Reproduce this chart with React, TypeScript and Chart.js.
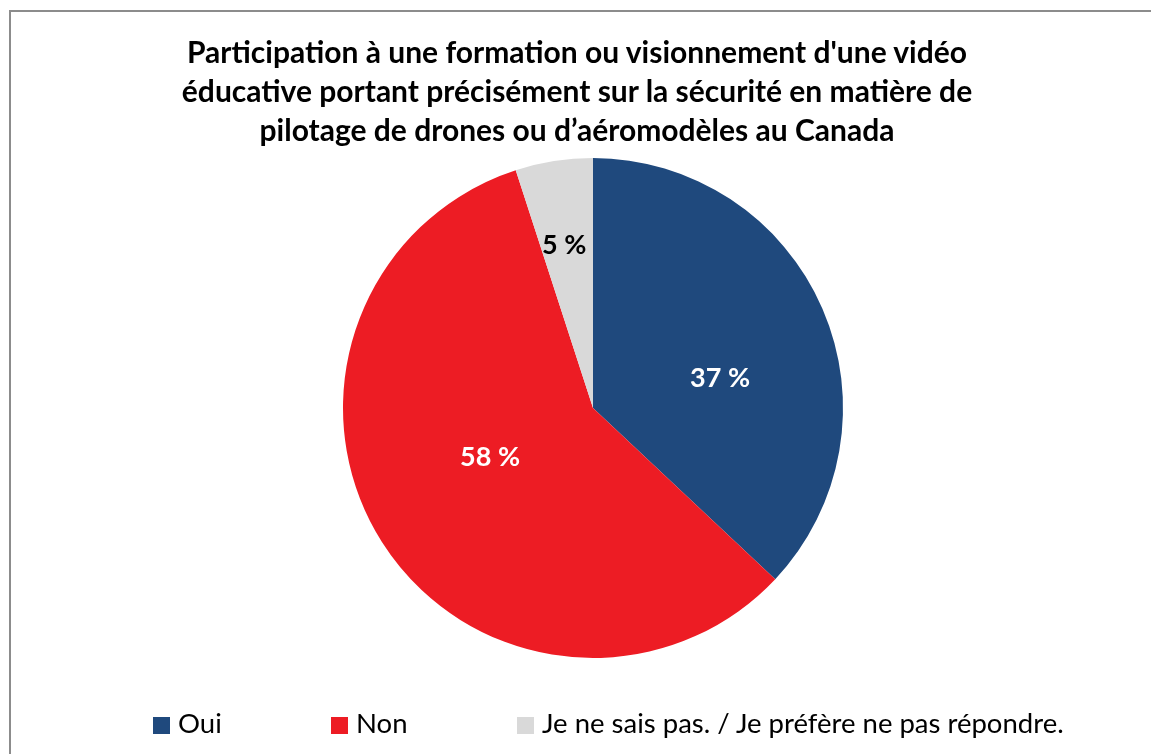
import React, { useEffect, useRef } from "react";
import { Chart, registerables } from "chart.js";

Chart.register(...registerables);

const titleLines: string[] = [
  "Participation à une formation ou visionnement d'une vidéo",
  "éducative portant précisément sur la sécurité en matière de",
  "pilotage de drones ou d’aéromodèles au Canada",
];
const categories: string[] = ["Oui", "Non", "Je ne sais pas. / Je préfère ne pas répondre."];
const values: number[] = [37, 58, 5];
const colors: string[] = ["#1F497D", "#ED1C24", "#D9D9D9"];
const labelColors: string[] = ["#FFFFFF", "#FFFFFF", "#000000"];

// label placement inside each slice: fraction along the slice angle, fraction of radius
const labelPlacement = [
  { a: 0.576, r: 0.522 },
  { a: 0.533, r: 0.456 },
  { a: 0.44, r: 0.66 },
];
const legendLefts = [153, 331, 517];

const FONT = "Lato, 'Open Sans', 'DejaVu Sans', sans-serif";

const sliceLabels = {
  id: "sliceLabels",
  afterDatasetsDraw(chart: any) {
    const ctx = chart.ctx;
    const meta = chart.getDatasetMeta(0);
    ctx.save();
    ctx.font = `bold 27px ${FONT}`;
    ctx.textAlign = "center";
    ctx.textBaseline = "middle";
    meta.data.forEach((el: any, i: number) => {
      const p = el.getProps(["x", "y", "startAngle", "endAngle", "outerRadius"], true);
      const pl = labelPlacement[i];
      const ang = p.startAngle + (p.endAngle - p.startAngle) * pl.a;
      const rr = p.outerRadius * pl.r;
      ctx.fillStyle = labelColors[i];
      ctx.fillText(`${values[i]} %`, p.x + Math.cos(ang) * rr, p.y + Math.sin(ang) * rr);
    });
    ctx.restore();
  },
};

export default function App() {
  const ref = useRef<HTMLCanvasElement | null>(null);
  useEffect(() => {
    if (!ref.current) return;
    const chart = new Chart(ref.current, {
      type: "pie",
      data: {
        labels: categories,
        datasets: [
          {
            data: values,
            backgroundColor: colors,
            borderWidth: 0,
          },
        ],
      },
      options: {
        animation: false,
        responsive: false,
        maintainAspectRatio: false,
        layout: { padding: { left: 343, right: 308, top: 158, bottom: 96 } },
        plugins: {
          legend: { display: false },
          title: { display: false },
          tooltip: { enabled: false },
        },
      },
      plugins: [sliceLabels],
    });
    (document as any).fonts?.ready?.then(() => chart.update());
    return () => chart.destroy();
  }, []);

  return (
    <div
      style={{
        position: "fixed",
        left: 0,
        top: 0,
        width: 1151,
        height: 754,
        overflow: "hidden",
        background: "#fff",
      }}
    >
      <div
        style={{
          position: "absolute",
          left: 9,
          top: 10,
          width: 1200,
          height: 800,
          border: "2px solid #8c8c8c",
          boxSizing: "border-box",
        }}
      />
      <canvas ref={ref} width={1151} height={754} style={{ position: "absolute", left: 0, top: 0 }} />
      <div
        style={{
          position: "absolute",
          left: 0,
          top: 32,
          width: 1154,
          textAlign: "center",
          fontFamily: FONT,
          fontWeight: 700,
          fontSize: 30,
          lineHeight: "39px",
          color: "#000",
        }}
      >
        {titleLines.map((t, i) => (
          <div key={i} style={{ whiteSpace: "nowrap" }}>{t}</div>
        ))}
      </div>
      {categories.map((c, i) => (
        <div
          key={c}
          style={{
            position: "absolute",
            left: legendLefts[i],
            top: 708,
            height: 30,
            display: "flex",
            alignItems: "flex-start",
            whiteSpace: "nowrap",
            fontFamily: FONT,
            fontSize: 27.5,
            lineHeight: "30px",
            color: "#000",
          }}
        >
          <span
            style={{
              display: "inline-block",
              width: 17,
              height: 17,
              background: colors[i],
              marginRight: 8,
              marginTop: 9,
              flex: "0 0 auto",
            }}
          />
          <span>{c}</span>
        </div>
      ))}
    </div>
  );
}
